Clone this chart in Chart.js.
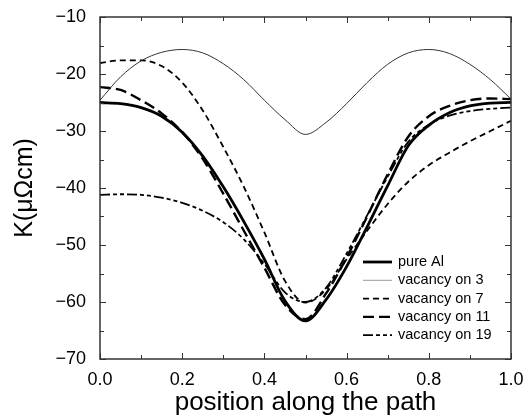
<!DOCTYPE html>
<html>
<head>
<meta charset="utf-8">
<script src="https://cdn.jsdelivr.net/npm/chart.js@4/dist/chart.umd.min.js"></script>
<style>
  html, body { margin: 0; padding: 0; background: #fff; }
  #wrap { width: 527px; height: 419px; }
</style>
</head>
<body>
<div id="wrap"><canvas id="kChart"></canvas></div>
<script>
// position along the path (x)
const positions = [0, 0.05, 0.1, 0.15, 0.2, 0.25, 0.3, 0.35, 0.4, 0.45, 0.5,
                   0.55, 0.6, 0.65, 0.7, 0.75, 0.8, 0.85, 0.9, 0.95, 1.0];

// K in micro-ohm cm
const pureAl    = [-25.0, -25.2, -25.9, -27.4, -30.2, -34.4, -39.8, -45.9, -52.5, -59.8, -63.3,
                   -59.6, -53.8, -46.8, -39.6, -32.6, -29.0, -26.8, -25.6, -25.1, -25.0];
const vacancy3  = [-24.6, -20.5, -17.7, -16.2, -15.7, -16.3, -18.2, -21.0, -24.6, -28.0, -30.6,
                   -28.5, -25.2, -21.5, -18.3, -16.3, -15.7, -16.4, -18.3, -21.0, -24.4];
const vacancy7  = [-18.1, -17.6, -17.6, -18.6, -21.5, -26.4, -32.8, -39.8, -47.8, -56.3, -60.1,
                   -57.8, -52.5, -47.5, -42.8, -38.9, -36.0, -33.8, -31.8, -30.0, -28.2];
const vacancy11 = [-22.3, -22.8, -24.6, -26.9, -30.2, -34.9, -41.0, -47.5, -54.0, -60.5, -63.0,
                   -58.5, -52.2, -45.0, -37.6, -31.0, -27.4, -25.6, -24.6, -24.3, -24.4];
const vacancy19 = [-41.2, -41.1, -41.2, -41.7, -42.6, -44.0, -46.0, -49.0, -53.3, -58.3, -60.0,
                   -57.5, -51.5, -44.8, -38.0, -31.9, -28.9, -27.3, -26.5, -26.1, -25.9];

const seriesNames = ['pure Al', 'vacancy on 3', 'vacancy on 7', 'vacancy on 11', 'vacancy on 19'];
const xTicks = [0, 0.2, 0.4, 0.6, 0.8, 1.0];
const yTicks = [-70, -60, -50, -40, -30, -20, -10];

const FONT = '"Liberation Sans", Arial, Helvetica, sans-serif';

function pts(ys) {
    return positions.map(function(x, i) { return { x: x, y: ys[i] }; });
}

function noScalePadding(s) {
    s.paddingTop = 0; s.paddingBottom = 0;
    s.paddingLeft = 0; s.paddingRight = 0;
}

// frame + inward ticks on all four sides
const frameTicks = {
    id: 'frameTicks',
    afterDraw: function(chart) {
        const c = chart.ctx, a = chart.chartArea;
        const xs = chart.scales.x, ys = chart.scales.y;
        c.save();
        c.strokeStyle = '#333';
        c.lineWidth = 1.5;
        c.strokeRect(a.left, a.top, a.right - a.left, a.bottom - a.top);
        c.lineWidth = 1;
        c.beginPath();
        for (let i = 0; i <= 10; i++) {
            const px = Math.round(xs.getPixelForValue(i / 10)) + 0.5;
            const len = i % 2 === 0 ? 6 : 4;
            c.moveTo(px, a.bottom); c.lineTo(px, a.bottom - len);
            c.moveTo(px, a.top); c.lineTo(px, a.top + len);
        }
        for (let v = -70; v <= -10; v += 5) {
            const py = Math.round(ys.getPixelForValue(v)) + 0.5;
            const len = v % 10 === 0 ? 6 : 4;
            c.moveTo(a.left, py); c.lineTo(a.left + len, py);
            c.moveTo(a.right, py); c.lineTo(a.right - len, py);
        }
        c.stroke();
        c.restore();
    }
};

// legend inside the plot, lower right
const insideLegend = {
    id: 'insideLegend',
    afterDraw: function(chart) {
        const c = chart.ctx;
        c.save();
        c.font = '14.5px ' + FONT;
        c.textBaseline = 'middle';
        c.fillStyle = '#000';
        chart.data.datasets.forEach(function(ds, i) {
            const y = 262 + i * 18.3;
            c.beginPath();
            c.strokeStyle = i === 1 ? '#999' : ds.borderColor;
            c.lineWidth = ds.borderWidth;
            c.setLineDash(ds.borderDash || []);
            c.moveTo(363, y); c.lineTo(392, y);
            c.stroke();
            c.setLineDash([]);
            c.fillText(ds.label, 398, y);
        });
        c.restore();
    }
};

const ctx = document.getElementById('kChart').getContext('2d');

new Chart(ctx, {
    type: 'line',
    data: {
        datasets: [
            { label: seriesNames[0], data: pts(pureAl),    borderColor: '#000', borderWidth: 2.8 },
            { label: seriesNames[1], data: pts(vacancy3),  borderColor: '#333', borderWidth: 1 },
            { label: seriesNames[2], data: pts(vacancy7),  borderColor: '#000', borderWidth: 1.8, borderDash: [6, 4] },
            { label: seriesNames[3], data: pts(vacancy11), borderColor: '#000', borderWidth: 2.4, borderDash: [11, 5] },
            { label: seriesNames[4], data: pts(vacancy19), borderColor: '#000', borderWidth: 1.8, borderDash: [10, 3, 4, 3, 4, 3] }
        ]
    },
    options: {
        responsive: true,
        maintainAspectRatio: false,
        animation: false,
        devicePixelRatio: 1,
        layout: { padding: { left: 0, right: 16, top: 17, bottom: 0 } },
        elements: {
            point: { radius: 0 },
            line: { cubicInterpolationMode: 'monotone', fill: false }
        },
        plugins: {
            legend: { display: false },
            tooltip: { enabled: false }
        },
        scales: {
            x: {
                type: 'linear',
                min: 0,
                max: 1,
                grid: { display: false, drawTicks: false },
                border: { display: false },
                afterFit: function(s) { s.height = 60; noScalePadding(s); },
                afterBuildTicks: function(s) { s.ticks = xTicks.map(function(v) { return { value: v }; }); },
                ticks: {
                    padding: 10,
                    color: '#000',
                    font: { family: FONT, size: 18 },
                    callback: function(v) { return v.toFixed(1); }
                },
                title: {
                    display: true,
                    text: 'position along the path',
                    color: '#000',
                    font: { family: FONT, size: 26 },
                    padding: { top: 0, bottom: 1 }
                }
            },
            y: {
                min: -70,
                max: -10,
                grid: { display: false, drawTicks: false },
                border: { display: false },
                afterFit: function(s) { s.width = 100; noScalePadding(s); },
                afterBuildTicks: function(s) { s.ticks = yTicks.map(function(v) { return { value: v }; }); },
                ticks: {
                    padding: 14,
                    color: '#000',
                    font: { family: FONT, size: 18 },
                    callback: function(v) { return '\u2212' + Math.abs(v); }
                },
                title: {
                    display: true,
                    text: 'K(\u03bc\u03a9cm)',
                    color: '#000',
                    font: { family: FONT, size: 25 },
                    padding: { top: 10, bottom: 0 }
                }
            }
        }
    },
    plugins: [frameTicks, insideLegend]
});
</script>
</body>
</html>
